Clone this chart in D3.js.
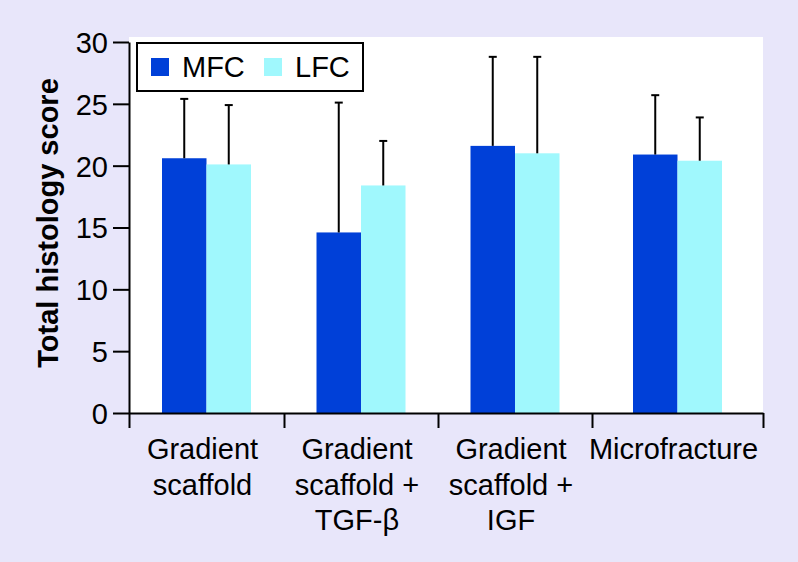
<!DOCTYPE html>
<html>
<head>
<meta charset="utf-8">
<script src="https://cdn.jsdelivr.net/npm/d3@7"></script>
<style>
  html, body { margin: 0; padding: 0; background: #e8e6fa; }
  svg { display: block; }
  text { font-family: "Liberation Sans", Arial, Helvetica, sans-serif; fill: #000; }
</style>
</head>
<body>
<svg id="chart" width="798" height="562"></svg>
<script>
// ---- data ----
const categories = [
  ["Gradient", "scaffold"],
  ["Gradient", "scaffold +", "TGF-\u03b2"],
  ["Gradient", "scaffold +", "IGF"],
  ["Microfracture"]
];
const seriesNames = ["MFC", "LFC"];
const mfcMeans = [20.6, 14.6, 21.6, 20.9];
const lfcMeans = [20.1, 18.4, 21.0, 20.4];
const mfcSD = [4.8, 10.5, 7.2, 4.8];
const lfcSD = [4.8, 3.6, 7.8, 3.5];
const yTicks = [0, 5, 10, 15, 20, 25, 30];

// ---- layout ----
const colors = ["#0040d8", "#a0f8fd"];
const svg = d3.select("#chart");
const plot = { left: 129, right: 763, top: 37, bottom: 413 };

const y = d3.scaleLinear().domain([0, 30]).range([413, 42]);
// piecewise category boundary scale (group separators)
const x = d3.scaleLinear().domain([0, 1, 2, 3, 4]).range([129, 284, 438, 592, 763]);
const barW = 44.5;

// white plot area
svg.append("rect")
  .attr("x", plot.left).attr("y", plot.top)
  .attr("width", plot.right - plot.left).attr("height", plot.bottom - plot.top)
  .attr("fill", "#fff");

// bars
const series = [mfcMeans, lfcMeans];
const sds = [mfcSD, lfcSD];
series.forEach((vals, s) => {
  svg.append("g").selectAll("rect").data(vals).join("rect")
    .attr("x", (d, i) => x(i + 0.5) - barW + s * barW)
    .attr("width", barW)
    .attr("y", d => y(d))
    .attr("height", d => y(0) - y(d))
    .attr("fill", colors[s]);
});

// error bars (upper only)
series.forEach((vals, s) => {
  const g = svg.append("g").attr("stroke", "#000").attr("stroke-width", 2);
  vals.forEach((d, i) => {
    const cx = x(i + 0.5) - barW / 2 + s * barW;
    g.append("line").attr("x1", cx).attr("x2", cx)
      .attr("y1", y(d)).attr("y2", y(d + sds[s][i]));
    g.append("line").attr("x1", cx - 4).attr("x2", cx + 4)
      .attr("y1", y(d + sds[s][i])).attr("y2", y(d + sds[s][i]));
  });
});

// y axis
const yAxis = svg.append("g")
  .attr("transform", `translate(${plot.left},0)`)
  .call(d3.axisLeft(y).tickValues(yTicks).tickSize(16).tickPadding(5).tickSizeOuter(0));
yAxis.selectAll("text").style("font-size", "29px")
  .attr("dy", "0.36em");
yAxis.selectAll("line, path").attr("stroke", "#000").attr("stroke-width", 2);

// x axis (separator ticks)
const xAxis = svg.append("g")
  .attr("transform", `translate(0,${y(0)})`)
  .call(d3.axisBottom(x).tickValues([0, 1, 2, 3, 4]).tickSize(15).tickFormat("").tickSizeOuter(0));
xAxis.selectAll("line, path").attr("stroke", "#000").attr("stroke-width", 2);

// category labels
const labelG = svg.append("g");
categories.forEach((lines, i) => {
  const t = labelG.append("text")
    .attr("text-anchor", "middle")
    .attr("x", x(i + 0.5) - 4)
    .attr("y", 459)
    .style("font-size", "29px");
  lines.forEach((ln, k) => {
    t.append("tspan").attr("x", x(i + 0.5) - 4).attr("dy", k === 0 ? 0 : 35.5).text(ln);
  });
});

// y title
svg.append("text")
  .attr("transform", "translate(58,223) rotate(-90)")
  .attr("text-anchor", "middle")
  .style("font-size", "29px").style("font-weight", "bold")
  .text("Total histology score");

// legend
const lg = svg.append("g");
lg.append("rect").attr("x", 137).attr("y", 43).attr("width", 226).attr("height", 48)
  .attr("fill", "#fff").attr("stroke", "#000").attr("stroke-width", 2);
const legendX = [151, 264];
seriesNames.forEach((n, s) => {
  lg.append("rect").attr("x", legendX[s]).attr("y", 58).attr("width", 18).attr("height", 18)
    .attr("fill", colors[s]);
  lg.append("text").attr("x", legendX[s] + 31).attr("y", 77)
    .style("font-size", "29px").text(n);
});
</script>
</body>
</html>
